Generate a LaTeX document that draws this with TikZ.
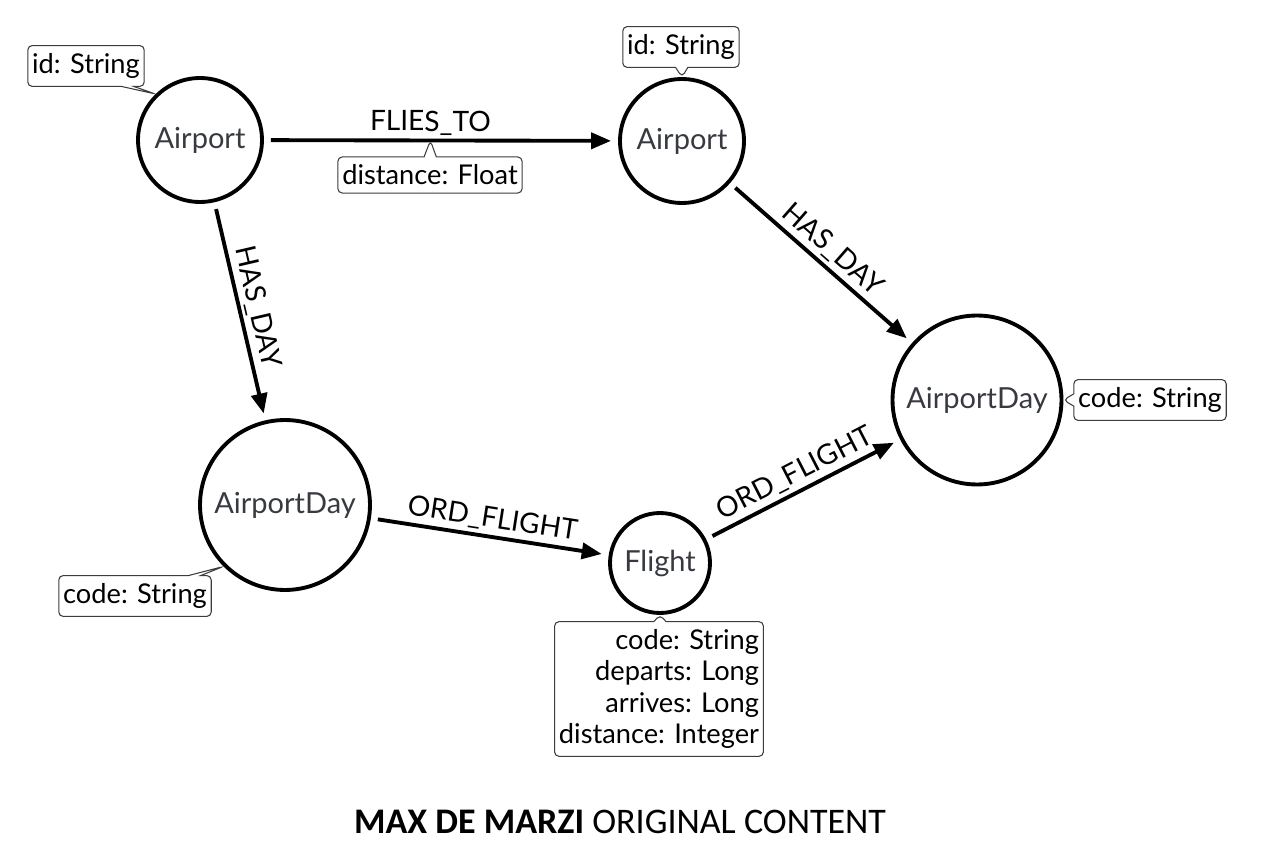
\documentclass[tikz,border=0pt]{standalone}
\usepackage{fontspec}
\setmainfont{Lato}
\newfontfamily\titlefont{Carlito}
\usetikzlibrary{positioning,arrows.meta,calc,shapes.callouts}
\definecolor{nodetext}{RGB}{55,58,64}
\definecolor{propline}{RGB}{60,60,60}
\tikzset{
  ent/.style={draw,circle,line width=2.2pt,align=center,font=\fontsize{16.5}{18}\selectfont,text=nodetext,inner sep=0pt},
  prop/.style={rectangle callout,draw=propline,line width=0.6pt,rounded corners=2.5pt,fill=white,font=\fontsize{15.5}{17.8}\selectfont,inner xsep=2.5pt,inner ysep=4.5pt,callout pointer width=7pt},
  rel/.style={-{Triangle[length=4mm,width=3.2mm]},line width=2.2pt,shorten <=4pt,shorten >=4pt},
  rlab/.style={font=\fontsize{16}{18}\selectfont,sloped,inner sep=2pt},
}

\begin{document}
\begin{tikzpicture}[x=0.02cm,y=-0.02cm]
  \useasboundingbox (0,0) rectangle (1262,858);
  % entities
  \node[ent,minimum size=2.48cm] (ap1) at (200,140) {Airport};
  \node[ent,minimum size=2.48cm] (ap2) at (682,141) {Airport};
  \node[ent,minimum size=3.38cm] (apd2) at (977,400) {AirportDay};
  \node[ent,minimum size=3.4cm] (apd1) at (285,505) {AirportDay};
  \node[ent,minimum size=2.0cm] (fl) at (660,563) {Flight};
  % relationships
  \draw[rel] (ap1) -- coordinate[pos=0.47] (ft) node[rlab,above,pos=0.47]{FLIES\_TO} (ap2);
  \draw[rel] (ap1) -- node[rlab,above]{HAS\_DAY} (apd1);
  \draw[rel] (ap2) -- node[rlab,above]{HAS\_DAY} (apd2);
  \draw[rel] (apd1) -- node[rlab,above]{ORD\_FLIGHT} (fl);
  \draw[rel] (fl) -- node[rlab,above]{ORD\_FLIGHT} (apd2);
  % properties
  \node[prop,callout absolute pointer={(ap1.134)}] (p-ap1) at (86,66) {id: String};
  \node[prop,callout absolute pointer={(ap2.north)}] (p-ap2) at (681,47) {id: String};
  \node[prop,callout absolute pointer={(ft)}] (p-ft) at (430,175) {distance: Float};
  \node[prop,callout absolute pointer={(apd2.east)}] (p-apd2) at (1150,400) {code: String};
  \node[prop,callout absolute pointer={(apd1.225)}] (p-apd1) at (135,596) {code: String};
  \node[prop,align=right,callout absolute pointer={(fl.south)}] (p-fl) at (659,689)
    {code: String\\departs: Long\\arrives: Long\\distance: Integer};
  % credit
  \node[font=\titlefont\fontsize{20.5}{22}\selectfont] (credit) at (620,822) {\textbf{MAX DE MARZI} ORIGINAL CONTENT};
\end{tikzpicture}
\end{document}
